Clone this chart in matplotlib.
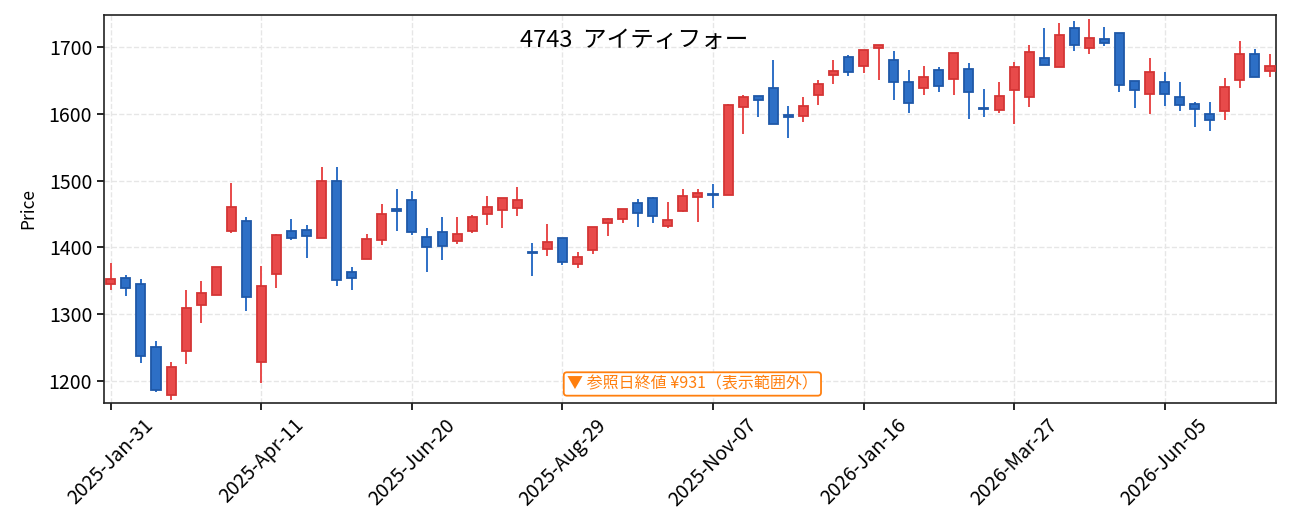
import matplotlib
matplotlib.use("Agg")
import matplotlib.pyplot as plt
import numpy as np
import pandas as pd

plt.rcParams['font.family'] = ['Noto Sans CJK JP', 'DejaVu Sans']

# weekly bars, Fridays from 2025-01-31
dates = pd.date_range("2025-01-31", periods=78, freq="7D")

opens = [1345.5, 1353.5, 1344.5, 1251.5, 1178.5, 1244.5, 1314, 1328.5, 1424.5, 1439,
         1228.5, 1360.5, 1424, 1425.5, 1414.5, 1499, 1362.5, 1383, 1411, 1457,
         1470.5, 1415, 1423, 1409.5, 1424.5, 1450, 1456.5, 1459.5, 1393, 1397.5,
         1413.5, 1375.5, 1396, 1436.5, 1443, 1466, 1474, 1432, 1454.5, 1476,
         1480, 1478, 1610, 1627, 1638, 1598, 1596.5, 1627.5, 1657.5, 1685.5,
         1671.5, 1698.5, 1680, 1648, 1638.5, 1665, 1652, 1666.5, 1609, 1605,
         1635, 1625, 1684, 1670, 1729, 1698.5, 1712.5, 1720.5, 1649.5, 1629,
         1648, 1624.5, 1615, 1600.5, 1604, 1650.5, 1690, 1664]
closes = [1352.5, 1339.5, 1237.5, 1186, 1221.5, 1308.5, 1331, 1370, 1460, 1326,
          1341.5, 1418, 1414.5, 1417.5, 1499, 1351.5, 1354.5, 1412, 1449.5, 1455,
          1423, 1401, 1402, 1419.5, 1445, 1460, 1473.5, 1470.5, 1391, 1408,
          1378.5, 1386, 1430, 1442, 1457, 1451.5, 1447.5, 1440.5, 1476.5, 1481.5,
          1478, 1612.5, 1624.5, 1620.5, 1585.5, 1596, 1612, 1645, 1664.5, 1662,
          1696, 1703.5, 1647.5, 1615.5, 1655.5, 1641.5, 1691.5, 1632, 1607, 1626,
          1670.5, 1692, 1673, 1718.5, 1702.5, 1713, 1706, 1643, 1635.5, 1663,
          1629, 1612.5, 1607, 1590.5, 1640.5, 1690, 1655, 1672]
highs = [1376.5, 1358.5, 1352.5, 1259.5, 1228.5, 1336.5, 1350, 1370, 1497, 1446,
         1372, 1420, 1443, 1434, 1520, 1520, 1371, 1420.5, 1465.5, 1488,
         1485, 1429.5, 1446, 1446, 1449, 1477.5, 1473.5, 1491, 1406.5, 1435.5,
         1413.5, 1393.5, 1430, 1444, 1457, 1472.5, 1476, 1468.5, 1488, 1488,
         1495, 1615, 1627.5, 1627, 1680.5, 1611.5, 1625, 1650.5, 1680.5, 1688,
         1696, 1703.5, 1694, 1665.5, 1671.5, 1669.5, 1691.5, 1675.5, 1637, 1647.5,
         1677.5, 1703, 1728.5, 1736.5, 1739.5, 1742, 1730, 1720.5, 1649.5, 1683.5,
         1662.5, 1647.5, 1617, 1617.5, 1653.5, 1709, 1697, 1689]
lows = [1336, 1326.5, 1227.5, 1184, 1172, 1226, 1287, 1328.5, 1421, 1305.5,
        1197.5, 1338.5, 1410.5, 1383.5, 1414.5, 1342.5, 1336.5, 1383, 1403, 1425,
        1418, 1362.5, 1381.5, 1404.5, 1421, 1433, 1428.5, 1446.5, 1356.5, 1386.5,
        1373, 1368.5, 1389.5, 1416.5, 1436, 1430, 1436, 1428.5, 1452.5, 1437.5,
        1458.5, 1478, 1570, 1595.5, 1585.5, 1564, 1588, 1613, 1644.5, 1657,
        1661.5, 1651, 1621, 1601.5, 1628.5, 1633, 1628.5, 1592.5, 1595.5, 1601.5,
        1585, 1610.5, 1673, 1670, 1694.5, 1690, 1702, 1633, 1609, 1600,
        1612, 1604.5, 1580.5, 1574.5, 1591, 1639, 1655, 1655.5]

title = "4743  アイティフォー"
note = "▼ 参照日終値 ¥931（表示範囲外）"

up_face, up_edge = "#e84a4a", "#d43535"
dn_face, dn_edge = "#2d6fc6", "#1f58a8"

fig = plt.figure(figsize=(12.91, 5.32), dpi=100)
ax = fig.add_axes([0.0806, 0.2425, 0.9078, 0.7293])

x = np.arange(len(dates))
for i in x:
    o, c, h, l = opens[i], closes[i], highs[i], lows[i]
    up = c >= o
    face = up_face if up else dn_face
    edge = up_edge if up else dn_edge
    ax.vlines(i, l, h, color=face, linewidth=1.4, zorder=2)
    bottom = min(o, c)
    height = max(abs(c - o), 1.2)
    ax.bar(i, height, bottom=bottom, width=0.6, color=face, edgecolor=edge,
           linewidth=1.3, zorder=3)

ax.set_xlim(-0.45, len(dates) - 0.6)
ax.set_ylim(1167, 1748)
ticks = x[::10]
ax.set_xticks(ticks)
ax.set_xticklabels([d.strftime("%Y-%b-%d") for d in dates[ticks]], rotation=45,
                   fontsize=14)
ax.set_yticks([1200, 1300, 1400, 1500, 1600, 1700])
ax.tick_params(axis="y", labelsize=14)
ax.tick_params(length=5, width=1.2)
ax.grid(True, linestyle="--", color="#e6e6e6", linewidth=1, zorder=0)
ax.set_axisbelow(True)
ax.set_ylabel("Price", fontsize=12.5, labelpad=8)
for s in ax.spines.values():
    s.set_linewidth(1.2)
    s.set_color("#222222")

fig.text(0.491, 0.924, title, ha="center", va="center", fontsize=17)
ax.text(0.502, 0.049, note, transform=ax.transAxes, ha="center", va="center",
        fontsize=11.5, color="#ff7f0e",
        bbox=dict(boxstyle="round,pad=0.2", facecolor="white", edgecolor="#ff7f0e",
                  linewidth=1.3))

fig.savefig("out.png", dpi=100)
